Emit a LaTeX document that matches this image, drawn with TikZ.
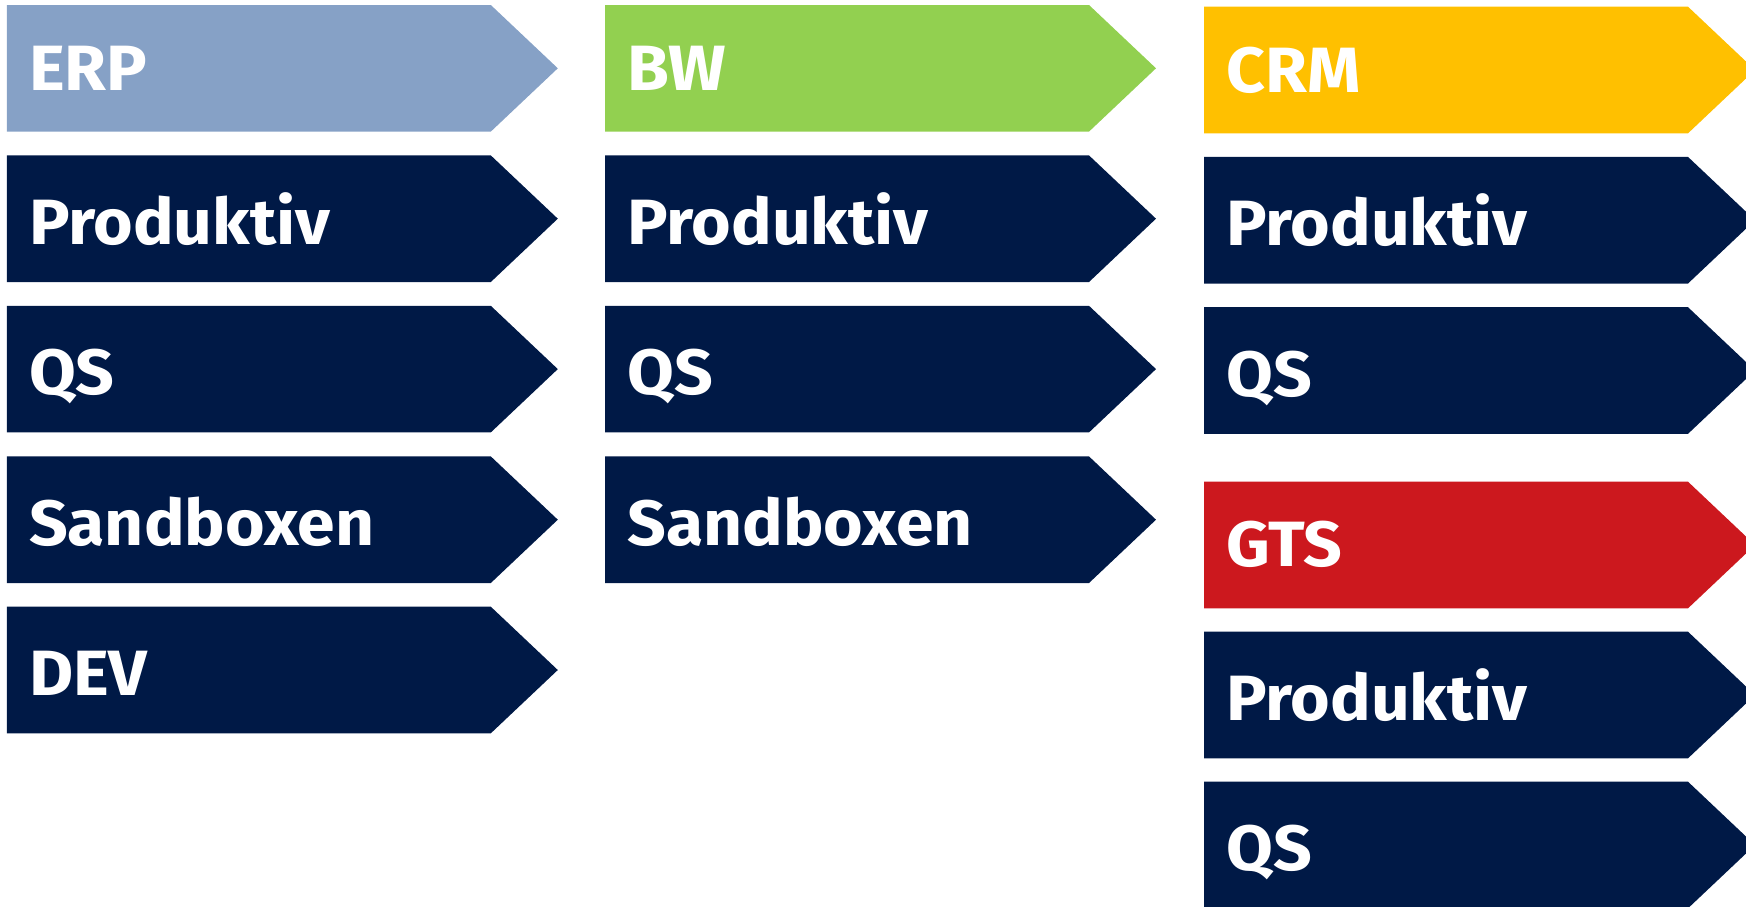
\documentclass[tikz,border=0pt]{standalone}
\usepackage{fontspec}
\setmainfont{Fira Sans}
\newfontfamily\lblfont[FakeStretch=1.06]{Fira Sans}
\definecolor{erpc}{HTML}{86A1C6}
\definecolor{bwc}{HTML}{92D050}
\definecolor{crmc}{HTML}{FFC000}
\definecolor{gtsc}{HTML}{CC181E}
\definecolor{navy}{HTML}{001946}
\tikzset{
  lbl/.style={text=white, font=\lblfont\fontsize{64}{70}\selectfont\bfseries, inner sep=0pt, anchor=base west},
}
% #1 name, #2 left x, #3 top y, #4 colour, #5 text, #6 baseline offset
\newcommand\arrbox[6]{%
  \fill[#4] (#2,#3) -- ++(484,0) -- ++(67,63.3) -- ++(-67,63.3) -- ++(-484,0) -- cycle;
  \node[lbl] (#1) at (#2+22,#3+#6) {#5};
}
\begin{document}
\begin{tikzpicture}[x=1pt,y=-1pt]
\useasboundingbox (0,0) rectangle (1746,906);
% column 1
\arrbox{erp}{6.8}{5}{erpc}{ERP}{85.6}
\arrbox{erpprod}{6.8}{155.4}{navy}{Produktiv}{89}
\arrbox{erpqs}{6.8}{305.8}{navy}{QS}{89}
\arrbox{erpsand}{6.8}{456.4}{navy}{Sandboxen}{89}
\arrbox{erpdev}{6.8}{606.7}{navy}{DEV}{89}
% column 2
\arrbox{bw}{605}{5}{bwc}{BW}{85.6}
\arrbox{bwprod}{605}{155.4}{navy}{Produktiv}{89}
\arrbox{bwqs}{605}{305.8}{navy}{QS}{89}
\arrbox{bwsand}{605}{456.4}{navy}{Sandboxen}{89}
% column 3
\arrbox{crm}{1204}{6.7}{crmc}{CRM}{85.6}
\arrbox{crmprod}{1204}{156.9}{navy}{Produktiv}{89}
\arrbox{crmqs}{1204}{307.2}{navy}{QS}{89}
\arrbox{gts}{1204}{481.7}{gtsc}{GTS}{85.2}
\arrbox{gtsprod}{1204}{631.7}{navy}{Produktiv}{88.5}
\arrbox{gtsqs}{1204}{781.7}{navy}{QS}{88.5}
\end{tikzpicture}
\end{document}
